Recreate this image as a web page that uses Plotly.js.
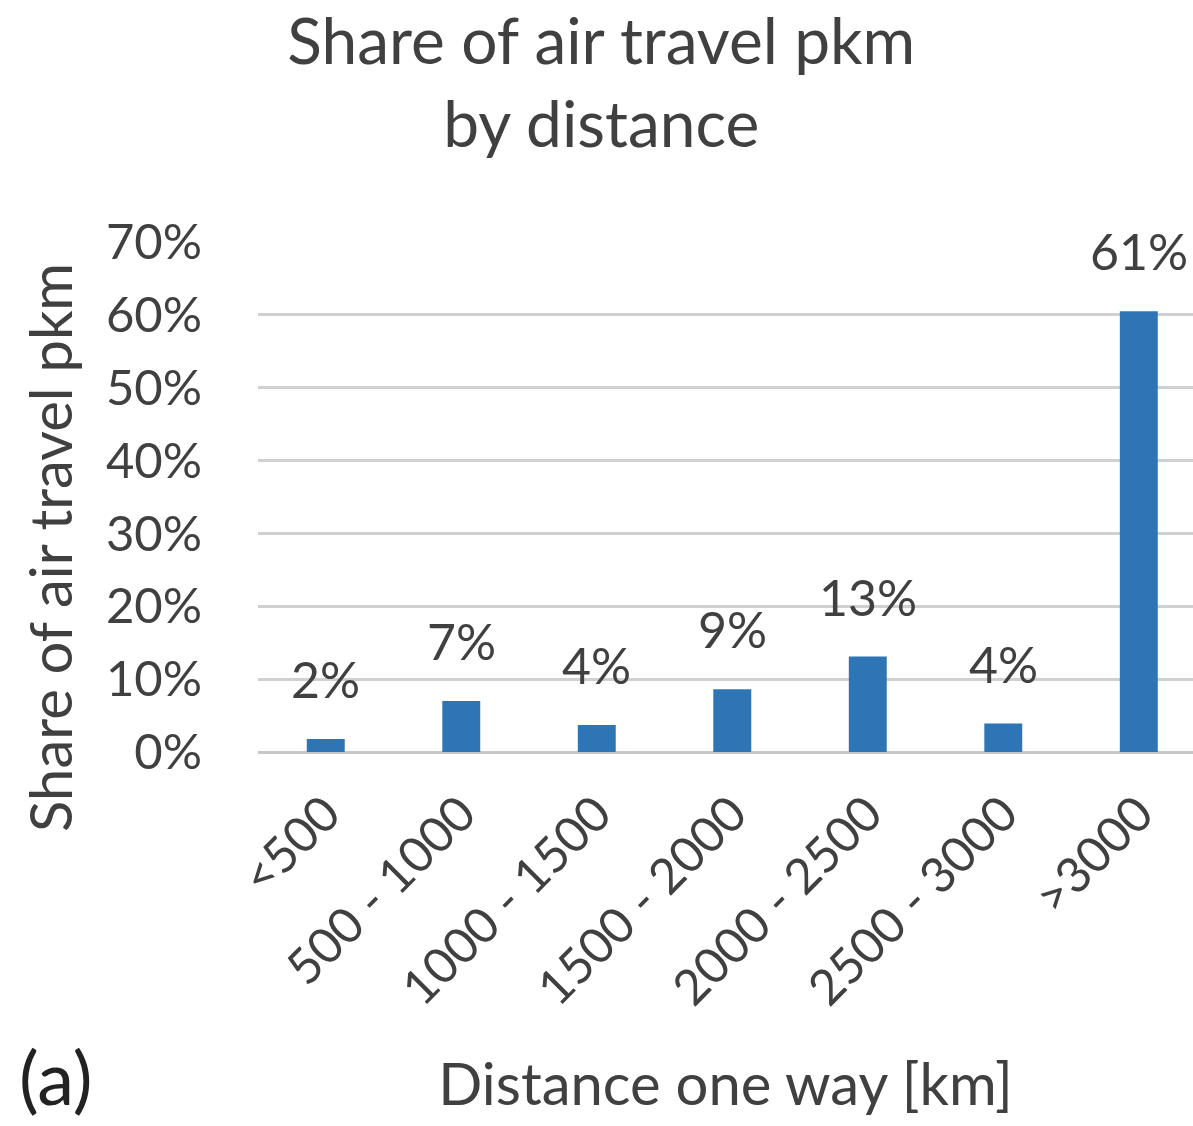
<!DOCTYPE html>
<html>
<head>
<meta charset="utf-8">
<script src="https://cdn.plot.ly/plotly-3.0.1.min.js"></script>
<style>html,body{margin:0;padding:0;background:#fff;}</style>
</head>
<body>
<div id="chart" style="width:1193px;height:1126px;"></div>
<script>
const categories = ["<500", "500 - 1000", "1000 - 1500", "1500 - 2000", "2000 - 2500", "2500 - 3000", ">3000"];
const shares = [1.8, 7.0, 3.7, 8.6, 13.1, 3.9, 60.5];
const labels = ["2%", "7%", "4%", "9%", "13%", "4%", "61%"];
const yTickVals = [0, 10, 20, 30, 40, 50, 60, 70];
const yTickText = ["0%", "10%", "20%", "30%", "40%", "50%", "60%", "70%"];

const FONT = "Lato, 'Open Sans', sans-serif";
const TXT = "#404040";

const trace = {
  type: "bar",
  x: categories,
  y: shares,
  width: 0.28,
  marker: {color: "#2E75B6"},
  hoverinfo: "x+y"
};

const annotations = categories.map((c, i) => ({
  x: c, y: shares[i], xref: "x", yref: "y",
  text: labels[i], showarrow: false,
  yanchor: "middle", yshift: 60,
  font: {family: FONT, size: 50, color: TXT}
}));
annotations.push({
  xref: "paper", yref: "paper", x: -0.2225, y: 0.402,
  xanchor: "center", yanchor: "middle",
  text: "Share of air travel pkm", textangle: -90, showarrow: false,
  font: {family: FONT, size: 58, color: TXT}
});
annotations.push({
  xref: "paper", yref: "paper", x: -0.258, y: -0.637,
  xanchor: "left", yanchor: "middle",
  text: "(a)", showarrow: false,
  font: {family: FONT, size: 74, color: "#222"}
});

const layout = {
  width: 1193, height: 1126,
  margin: {l: 258, r: 0, t: 242, b: 374},
  paper_bgcolor: "#fff", plot_bgcolor: "#fff",
  showlegend: false,
  title: {
    text: "Share of air travel pkm<br>by distance",
    x: 0.504, xanchor: "center", xref: "container",
    y: 0.943, yanchor: "top", yref: "container",
    font: {family: FONT, size: 64, color: TXT}
  },
  xaxis: {
    type: "category",
    range: [-0.5, 6.4],
    tickangle: -45,
    tickfont: {family: FONT, size: 49, color: TXT},
    showgrid: false, zeroline: false,
    showline: false, ticks: "", ticklabelstandoff: 22,
    title: {text: "Distance one way [km]", standoff: 50, font: {family: FONT, size: 58, color: TXT}}
  },
  yaxis: {
    range: [0, 70],
    tickvals: yTickVals, ticktext: yTickText,
    tickfont: {family: FONT, size: 49, color: TXT},
    showgrid: true, gridcolor: "#d0d0d0", gridwidth: 2.5,
    zeroline: true, zerolinecolor: "#c8c8c8", zerolinewidth: 2.5,
    ticks: "", ticklabelstandoff: 55
  },
  annotations: annotations
};

Plotly.newPlot("chart", [trace], layout, {displayModeBar: false, responsive: false});
</script>
</body>
</html>
